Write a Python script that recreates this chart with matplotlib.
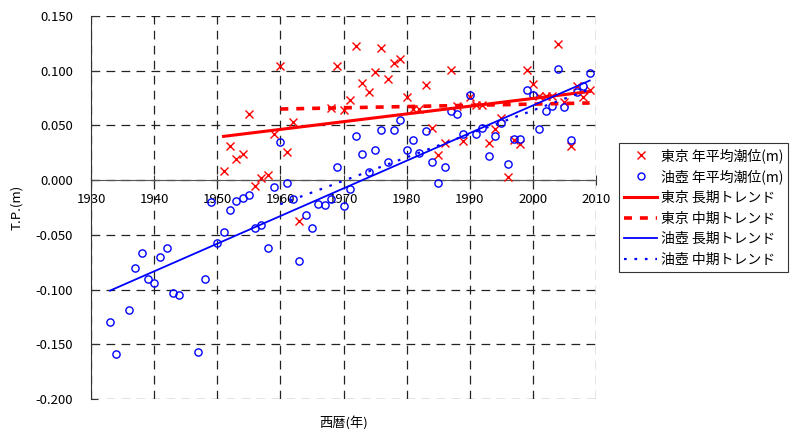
import matplotlib
matplotlib.use('Agg')
import matplotlib.pyplot as plt
from matplotlib.lines import Line2D
from matplotlib.ticker import FormatStrFormatter

plt.rcParams['font.family'] = ['Noto Sans CJK JP', 'DejaVu Sans']
plt.rcParams['axes.unicode_minus'] = True

# 東京 年平均潮位(m)
tokyo_years = [1951, 1952, 1953, 1954, 1955, 1956, 1957, 1958, 1959, 1960, 1961, 1962, 1963,
               1968, 1969, 1970, 1971, 1972, 1973, 1974, 1975, 1976, 1977, 1978, 1979,
               1980, 1981, 1982, 1983, 1984, 1985, 1986, 1987, 1988, 1989,
               1990, 1991, 1992, 1993, 1994, 1995, 1996, 1997, 1998, 1999,
               2000, 2001, 2002, 2003, 2004, 2005, 2006, 2007, 2008, 2009]
tokyo_tp = [0.008, 0.031, 0.019, 0.024, 0.060, -0.005, 0.002, 0.005, 0.042, 0.104, 0.026, 0.053, -0.037,
            0.066, 0.104, 0.064, 0.073, 0.123, 0.089, 0.081, 0.099, 0.121, 0.092, 0.107, 0.111,
            0.076, 0.065, 0.065, 0.087, 0.048, 0.023, 0.034, 0.101, 0.068, 0.036,
            0.076, 0.069, 0.069, 0.034, 0.047, 0.057, 0.003, 0.037, 0.033, 0.101,
            0.088, 0.077, 0.077, 0.077, 0.124, 0.071, 0.031, 0.086, 0.076, 0.082]

# 油壺 年平均潮位(m)
abu_years = [1933, 1934, 1936, 1937, 1938, 1939, 1940, 1941, 1942, 1943, 1944,
             1947, 1948, 1949, 1950, 1951, 1952, 1953, 1954, 1955, 1956, 1957, 1958, 1959,
             1960, 1961, 1962, 1963, 1964, 1965, 1966, 1967, 1968, 1969,
             1970, 1971, 1972, 1973, 1974, 1975, 1976, 1977, 1978, 1979,
             1980, 1981, 1982, 1983, 1984, 1985, 1986, 1987, 1988, 1989,
             1990, 1991, 1992, 1993, 1994, 1995, 1996, 1997, 1998, 1999,
             2000, 2001, 2002, 2003, 2004, 2005, 2006, 2007, 2008, 2009]
abu_tp = [-0.130, -0.159, -0.119, -0.080, -0.067, -0.090, -0.094, -0.070, -0.062, -0.103, -0.105,
          -0.157, -0.090, -0.020, -0.057, -0.047, -0.027, -0.019, -0.016, -0.014, -0.044, -0.041, -0.062, -0.006,
          0.035, -0.003, -0.017, -0.074, -0.032, -0.044, -0.022, -0.023, -0.017, 0.012,
          -0.024, -0.008, 0.040, 0.024, 0.007, 0.028, 0.046, 0.017, 0.046, 0.055,
          0.028, 0.037, 0.025, 0.045, 0.017, -0.003, 0.012, 0.063, 0.060, 0.042,
          0.078, 0.042, 0.048, 0.022, 0.040, 0.052, 0.015, 0.038, 0.038, 0.082,
          0.078, 0.047, 0.063, 0.068, 0.102, 0.067, 0.037, 0.081, 0.086, 0.098]

# トレンド線 (始点, 終点)
tokyo_long_x = [1951, 2009]
tokyo_long_y = [0.040, 0.081]
tokyo_mid_x = [1960, 2009]
tokyo_mid_y = [0.065, 0.0705]
abu_long_x = [1933, 2009]
abu_long_y = [-0.101, 0.091]
abu_mid_x = [1960, 2009]
abu_mid_y = [-0.022, 0.083]

labels = ['東京 年平均潮位(m)', '油壺 年平均潮位(m)', '東京 長期トレンド',
          '東京 中期トレンド', '油壺 長期トレンド', '油壺 中期トレンド']

fig = plt.figure(figsize=(7.92, 4.29), dpi=100)
ax = fig.add_axes([91 / 792, 1 - 399 / 429, (596 - 91) / 792, (399 - 16) / 429])

ax.set_xlim(1930, 2010)
ax.set_ylim(-0.2, 0.15)
ax.set_xticks(range(1930, 2011, 10))
ax.set_yticks([-0.2, -0.15, -0.1, -0.05, 0, 0.05, 0.1, 0.15])
ax.yaxis.set_major_formatter(FormatStrFormatter('%.3f'))

ax.grid(True, color='#222222', linestyle=(0, (7, 5)), linewidth=0.9)
ax.set_axisbelow(True)

ax.spines['top'].set_visible(False)
ax.spines['right'].set_visible(False)
ax.spines['bottom'].set_position(('data', 0))
ax.spines['bottom'].set_color('#555555')
ax.spines['left'].set_color('#333333')
ax.spines['bottom'].set_zorder(1)

ax.tick_params(axis='y', direction='in', length=5, pad=13, labelsize=9.5, colors='#333333')
ax.tick_params(axis='x', direction='inout', length=7, pad=6, labelsize=9.5, colors='#333333')
ax.tick_params(labelcolor='black')

ax.plot(tokyo_years, tokyo_tp, linestyle='none', marker='x', color='#ff0000',
        markersize=6, markeredgewidth=1.0, clip_on=False, zorder=3)
ax.plot(abu_years, abu_tp, linestyle='none', marker='o', markerfacecolor='none',
        markeredgecolor='#0000ff', markersize=5.2, markeredgewidth=1.0, clip_on=False, zorder=3)
ax.plot(tokyo_long_x, tokyo_long_y, color='#ff0000', linewidth=2.2, zorder=4)
ax.plot(tokyo_mid_x, tokyo_mid_y, color='#ff0000', linewidth=2.6, linestyle=(0, (2.2, 2.2)), zorder=4)
ax.plot(abu_long_x, abu_long_y, color='#0000ff', linewidth=1.3, zorder=4)
ax.plot(abu_mid_x, abu_mid_y, color='#0000ff', linewidth=1.6, linestyle=(0, (1.2, 3.5)), zorder=4)

ax.set_xlabel('西暦(年)', fontsize=9.5)
ax.xaxis.set_label_coords(0.5, -0.045)
ax.set_ylabel('T.P.(m)', fontsize=9.5)
ax.yaxis.set_label_coords(-0.135, 0.5)

handles = [
    Line2D([], [], linestyle='none', marker='x', color='#ff0000', markersize=6, markeredgewidth=1.0),
    Line2D([], [], linestyle='none', marker='o', markerfacecolor='none', markeredgecolor='#0000ff',
           markersize=5, markeredgewidth=1.0),
    Line2D([], [], color='#ff0000', linewidth=2.2),
    Line2D([], [], color='#ff0000', linewidth=2.6, linestyle=(0, (2.2, 2.2))),
    Line2D([], [], color='#0000ff', linewidth=1.3),
    Line2D([], [], color='#0000ff', linewidth=1.6, linestyle=(0, (1.2, 3.5))),
]
leg = fig.legend(handles, labels, loc='upper left', bbox_to_anchor=(619 / 792, 1 - 143 / 429),
                 fontsize=10, frameon=True, fancybox=False, edgecolor='black',
                 handlelength=2.4, handletextpad=0.25, labelspacing=0.48, borderpad=0.35,
                 borderaxespad=0)
leg.get_frame().set_linewidth(0.8)

fig.savefig('out.png', dpi=100)
